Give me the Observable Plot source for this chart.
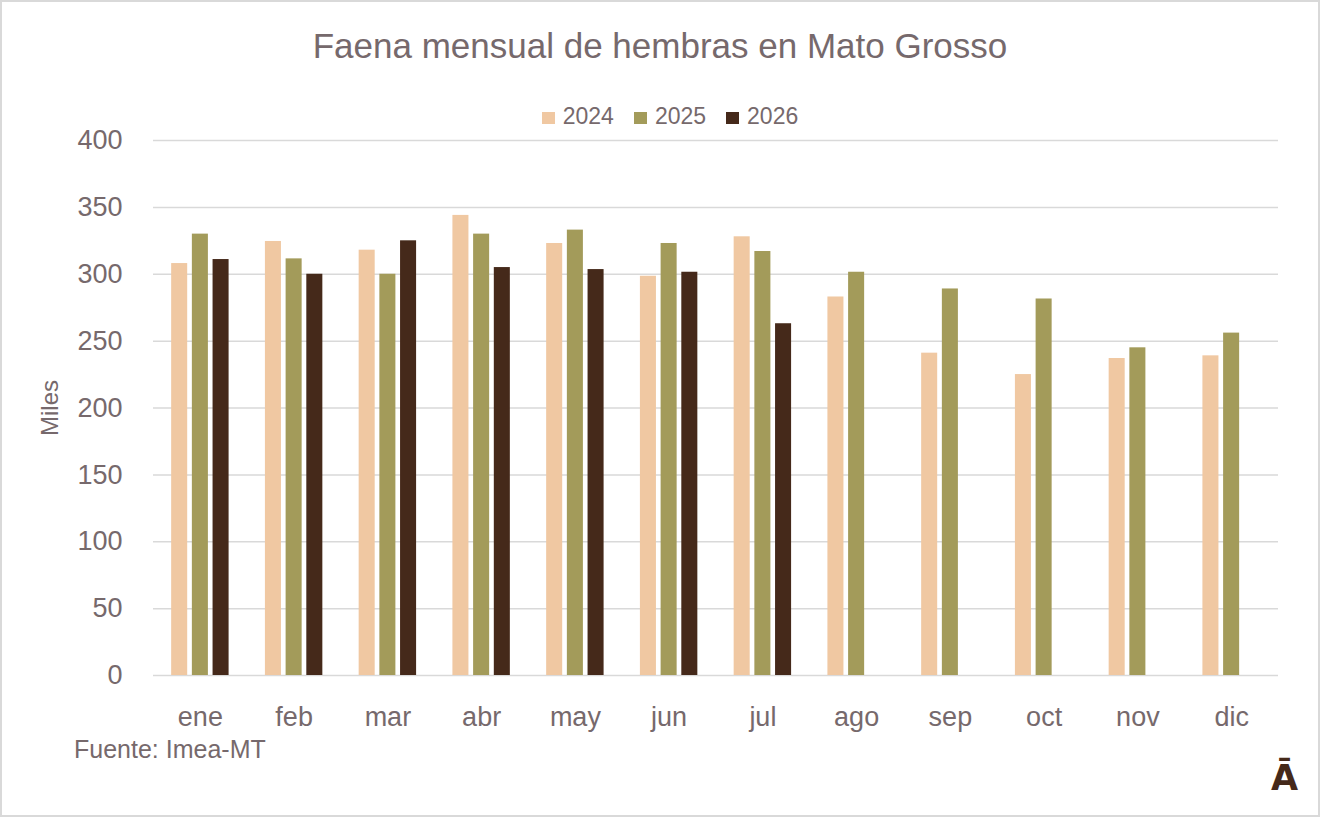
<!DOCTYPE html>
<html>
<head>
<meta charset="utf-8">
<script src="https://cdn.jsdelivr.net/npm/d3@7"></script>
<script src="https://cdn.jsdelivr.net/npm/@observablehq/plot@0.6"></script>
<style>
  html, body { margin: 0; padding: 0; background: #fff; }
  #wrap { position: relative; width: 1320px; height: 817px; overflow: hidden; font-family: "Liberation Sans", Arial, sans-serif; color: #76696C; }
  #frame { position: absolute; left: 0; top: 0; width: 1316px; height: 813px; border: 2px solid #D9D9D9; pointer-events: none; }
  #title { position: absolute; left: 0; width: 1320px; top: 26px; text-align: center; font-size: 35px; line-height: 40px; }
  #legend { position: absolute; left: 10px; width: 1320px; top: 103px; text-align: center; font-size: 23px; line-height: 26px; }
  #legend span.item { display: inline-block; margin: 0 10px; }
  #legend span.sw { display: inline-block; width: 13px; height: 12px; margin-right: 8px; vertical-align: 0px; }
  #ylabel { position: absolute; left: 50px; top: 408px; transform: translate(-50%, -50%) rotate(-90deg); font-size: 24px; white-space: nowrap; }
  #source { position: absolute; left: 74px; top: 735px; font-size: 25px; line-height: 28px; }
  #logo { position: absolute; left: 1271px; top: 758px; font-size: 35px; font-weight: bold; color: #45291A; font-family: "DejaVu Sans", sans-serif; }
  svg { position: absolute; left: 0; top: 0; }
</style>
</head>
<body>
<div id="wrap">
  <div id="chart"></div>
  <div id="title">Faena mensual de hembras en Mato Grosso</div>
  <div id="legend"></div>
  <div id="ylabel">Miles</div>
  <div id="source">Fuente: Imea-MT</div>
  <div id="logo">Ā</div>
  <div id="frame"></div>
</div>
<script>
const months = ["ene","feb","mar","abr","may","jun","jul","ago","sep","oct","nov","dic"];
const years = ["2024","2025","2026"];
const colors = ["#F0C8A2","#A39B5A","#45291A"];
const values2024 = [308, 324.5, 318, 344, 323, 298.5, 328, 283, 241, 225, 237, 239];
const values2025 = [330, 311.5, 300, 330, 333, 323, 317, 301.5, 289, 281.5, 245, 256];
const values2026 = [311, 300, 325, 305, 303.5, 301.5, 263, null, null, null, null, null];
const yTicks = [0, 50, 100, 150, 200, 250, 300, 350, 400];

const series = [values2024, values2025, values2026];
const data = [];
years.forEach((yr, i) => {
  months.forEach((m, j) => {
    const v = series[i][j];
    if (v != null) data.push({month: m, year: yr, value: v});
  });
});

const offsets = {"2024": -20.7, "2025": 0, "2026": 20.7};

const marks = [
  Plot.ruleY(yTicks, {stroke: "#D9D9D9", strokeWidth: 1.5, strokeOpacity: 1})
];
years.forEach((yr, i) => {
  marks.push(Plot.barY(data.filter(d => d.year === yr), {
    x: "month", y: "value", fill: colors[i], dx: offsets[yr]
  }));
});
marks.push(Plot.axisY({ticks: yTicks, tickSize: 0, tickPadding: 31, fontSize: 27, label: null, fill: "#76696C"}));
marks.push(Plot.axisX({tickSize: 0, tickPadding: 31, fontSize: 27, label: null, fill: "#76696C"}));

const chart = Plot.plot({
  width: 1320,
  height: 817,
  marginLeft: 153,
  marginRight: 42,
  marginTop: 140,
  marginBottom: 142,
  style: {fontFamily: "'Liberation Sans', Arial, sans-serif", background: "transparent", color: "#76696C"},
  x: {domain: months, paddingInner: 0.829, paddingOuter: 0.4145, round: false},
  y: {domain: [0, 400]},
  marks
});
document.getElementById("chart").appendChild(chart);

const legend = document.getElementById("legend");
years.forEach((yr, i) => {
  const item = document.createElement("span");
  item.className = "item";
  const sw = document.createElement("span");
  sw.className = "sw";
  sw.style.background = colors[i];
  item.appendChild(sw);
  item.appendChild(document.createTextNode(yr));
  legend.appendChild(item);
});
</script>
</body>
</html>
